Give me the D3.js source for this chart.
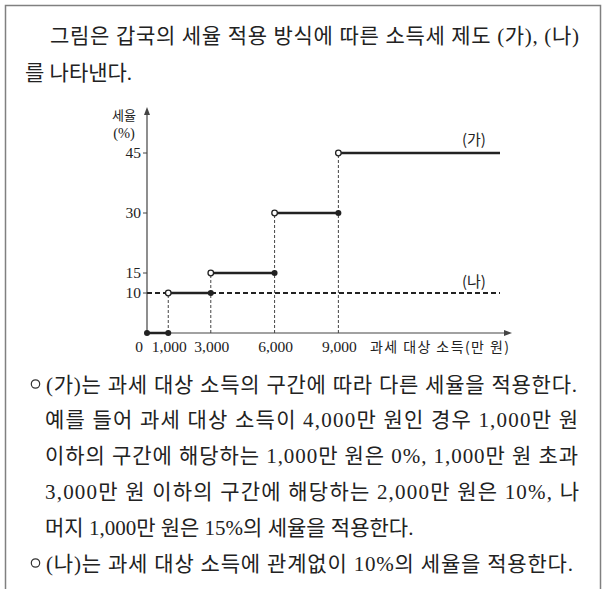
<!DOCTYPE html>
<html><head><meta charset="utf-8">
<script src="https://cdn.jsdelivr.net/npm/d3@7"></script>
<style>
html,body{margin:0;padding:0;background:#fff;}
svg{display:block;}
</style></head>
<body>
<svg id="c" width="605" height="589"></svg>
<script>
// ---- data ----
const brackets = [0, 1000, 3000, 6000, 9000];   // lower bound of each bracket (만 원)
const ratesA = [0, 10, 15, 30, 45];              // (가) rate per bracket (%)
const rateB = 10;                                // (나) flat rate (%)
const xEnd = 16600;                              // right end of drawn lines
const xTicks = [1000, 3000, 6000, 9000];
const xTickLabels = ["1,000", "3,000", "6,000", "9,000"];
const yTicks = [10, 15, 30, 45];
const yTickLabels = ["10", "15", "30", "45"];
const seriesLabels = ["(가)", "(나)"];
const introLines = ["그림은 갑국의 세율 적용 방식에 따른 소득세 제도 (가), (나)", "를 나타낸다."];
const bodyLines = [
  {bullet: true,  text: "(가)는 과세 대상 소득의 구간에 따라 다른 세율을 적용한다."},
  {bullet: false, text: "예를 들어 과세 대상 소득이 4,000만 원인 경우 1,000만 원"},
  {bullet: false, text: "이하의 구간에 해당하는 1,000만 원은 0%, 1,000만 원 초과"},
  {bullet: false, text: "3,000만 원 이하의 구간에 해당하는 2,000만 원은 10%, 나"},
  {bullet: false, text: "머지 1,000만 원은 15%의 세율을 적용한다."},
  {bullet: true,  text: "(나)는 과세 대상 소득에 관계없이 10%의 세율을 적용한다."}
];

// ---- drawing ----
const svg = d3.select("#c");
const FONT = "'Liberation Serif','Noto Sans CJK KR',serif";
const KFONT = "'Noto Sans CJK KR','Liberation Serif',sans-serif";
const ink = "#222";

svg.append("rect").attr("x", 5.5).attr("y", 5.5).attr("width", 595).attr("height", 620)
  .attr("fill", "none").attr("stroke", "#808080").attr("stroke-width", 1.5);

// intro text
svg.append("text").attr("x", 50).attr("y", 43).attr("font-family", FONT).attr("font-size", 21)
  .attr("fill", ink).attr("textLength", 529).attr("lengthAdjust", "spacing").text(introLines[0]);
svg.append("text").attr("x", 25).attr("y", 80).attr("font-family", FONT).attr("font-size", 21)
  .attr("fill", ink).text(introLines[1]);

const x = d3.scaleLinear().domain([0, xEnd]).range([147, 500]);
const y = d3.scaleLinear().domain([0, 45]).range([333, 153]);

const g = svg.append("g");
// axes
g.append("line").attr("x1", x(0)).attr("x2", 506).attr("y1", y(0)).attr("y2", y(0))
  .attr("stroke", "#444").attr("stroke-width", 1.2);
g.append("path").attr("d", `M512,${y(0)} L504,${y(0)-3} L504,${y(0)+3} Z`).attr("fill", "#444");
g.append("line").attr("x1", x(0)).attr("x2", x(0)).attr("y1", y(0)).attr("y2", 113)
  .attr("stroke", "#444").attr("stroke-width", 1.2);
g.append("path").attr("d", `M${x(0)},107 L${x(0)-3},115 L${x(0)+3},115 Z`).attr("fill", "#444");

// y ticks
yTicks.forEach((v, i) => {
  g.append("line").attr("x1", x(0) - 4).attr("x2", x(0)).attr("y1", y(v)).attr("y2", y(v))
    .attr("stroke", "#444").attr("stroke-width", 1);
  g.append("text").attr("x", 141).attr("y", y(v) + 5).attr("text-anchor", "end")
    .attr("font-family", FONT).attr("font-size", 15.5).attr("fill", ink).text(yTickLabels[i]);
});
// y label
g.append("text").attr("x", 124).attr("y", 120).attr("text-anchor", "middle")
  .attr("font-family", KFONT).attr("font-size", 13).attr("fill", ink).text("세율");
g.append("text").attr("x", 124).attr("y", 138).attr("text-anchor", "middle")
  .attr("font-family", FONT).attr("font-size", 14.5).attr("fill", ink).text("(%)");

// x ticks
g.append("text").attr("x", 139).attr("y", 352).attr("text-anchor", "middle")
  .attr("font-family", FONT).attr("font-size", 15.5).attr("fill", ink).text("0");
xTicks.forEach((v, i) => {
  g.append("text").attr("x", x(v) + 1).attr("y", 352).attr("text-anchor", "middle")
    .attr("font-family", FONT).attr("font-size", 15.5).attr("fill", ink).text(xTickLabels[i]);
});
g.append("text").attr("x", 370).attr("y", 352).attr("font-family", KFONT).attr("font-size", 14)
  .attr("fill", ink).attr("textLength", 139).attr("lengthAdjust", "spacing").text("과세 대상 소득(만 원)");

// dashed drop lines (가)
brackets.slice(1).forEach((b, i) => {
  g.append("line").attr("x1", x(b)).attr("x2", x(b)).attr("y1", y(0)).attr("y2", y(ratesA[i + 1]))
    .attr("stroke", "#444").attr("stroke-width", 1).attr("stroke-dasharray", "3,2");
});

// (나) flat rate
g.append("line").attr("x1", x(0)).attr("x2", x(xEnd)).attr("y1", y(rateB)).attr("y2", y(rateB))
  .attr("stroke", ink).attr("stroke-width", 2).attr("stroke-dasharray", "5,3");

// (가) steps
const segs = brackets.map((b, i) => ({x0: b, x1: i < brackets.length - 1 ? brackets[i + 1] : xEnd, r: ratesA[i], i}));
segs.forEach(s => {
  g.append("line").attr("x1", x(s.x0)).attr("x2", x(s.x1)).attr("y1", y(s.r)).attr("y2", y(s.r))
    .attr("stroke", ink).attr("stroke-width", 2.5);
});
segs.forEach(s => {
  if (s.i === 0) {
    g.append("circle").attr("cx", x(s.x0)).attr("cy", y(s.r)).attr("r", 3).attr("fill", ink);
  } else {
    g.append("circle").attr("cx", x(s.x0)).attr("cy", y(s.r)).attr("r", 2.8)
      .attr("fill", "#fff").attr("stroke", ink).attr("stroke-width", 1.3);
  }
  if (s.i < segs.length - 1) {
    g.append("circle").attr("cx", x(s.x1)).attr("cy", y(s.r)).attr("r", 3).attr("fill", ink);
  }
});

// series labels
g.append("text").attr("x", 462).attr("y", 145).attr("font-family", KFONT).attr("font-size", 15)
  .attr("fill", ink).text(seriesLabels[0]);
g.append("text").attr("x", 462).attr("y", 287).attr("font-family", KFONT).attr("font-size", 15)
  .attr("fill", ink).text(seriesLabels[1]);

// body text
const lens = [531, 533, 533, 534, null, 527];
bodyLines.forEach((d, i) => {
  const cy = 384 + i * 35.8;
  if (d.bullet) {
    g.append("circle").attr("cx", 35.5).attr("cy", cy).attr("r", 4.2).attr("fill", "none")
      .attr("stroke", "#333").attr("stroke-width", 1.2);
  }
  const t = g.append("text").attr("x", d.bullet ? 46 : 45).attr("y", cy + 7.5)
    .attr("font-family", FONT).attr("font-size", 21).attr("fill", ink).text(d.text);
  if (lens[i]) t.attr("textLength", lens[i]).attr("lengthAdjust", "spacing");
});
</script>
</body></html>
